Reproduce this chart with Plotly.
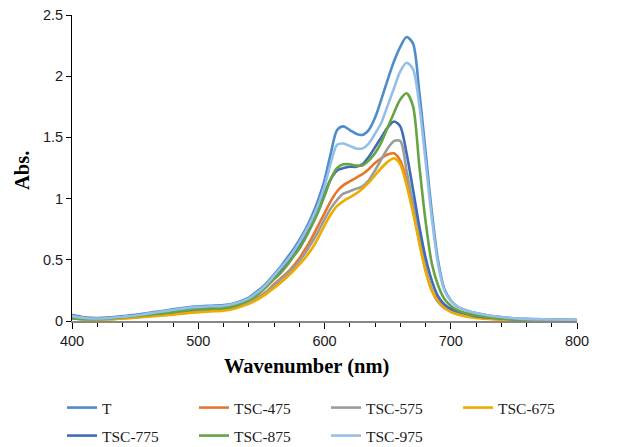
import plotly.graph_objects as go

wavelength = [400, 410, 420, 430, 440, 450, 460, 470, 480, 490, 500, 510, 520, 530,
              540, 545, 550, 555, 560, 565, 570, 575, 580, 585,
              590, 595, 600, 605, 610, 615, 620, 625, 630, 635,
              640, 645, 650, 655, 660, 665, 670, 675, 680, 685,
              690, 695, 700, 705, 710,
              720, 730, 740, 750, 760, 780, 800]

abs_T = [0.05, 0.03, 0.025, 0.03, 0.04, 0.05, 0.065, 0.08, 0.095, 0.11, 0.12, 0.125, 0.13, 0.15,
         0.19, 0.23, 0.27, 0.32, 0.38, 0.44, 0.51, 0.58, 0.66, 0.75,
         0.86, 0.99, 1.15, 1.37, 1.56, 1.59, 1.56, 1.53, 1.52, 1.56,
         1.66, 1.81, 1.97, 2.12, 2.24, 2.32, 2.27, 1.88, 1.39, 0.89,
         0.49, 0.26, 0.17, 0.12, 0.095,
         0.065, 0.045, 0.032, 0.023, 0.017, 0.012, 0.01]

abs_475 = [0.02, 0.015, 0.013, 0.016, 0.023, 0.031, 0.041, 0.051, 0.062, 0.073, 0.083, 0.088, 0.093, 0.113,
           0.155, 0.18, 0.21, 0.25, 0.30, 0.345, 0.39, 0.445, 0.51, 0.59,
           0.68, 0.78, 0.88, 0.98, 1.06, 1.11, 1.14, 1.17, 1.20, 1.24,
           1.29, 1.33, 1.36, 1.37, 1.31, 1.15, 0.92, 0.66, 0.42, 0.25,
           0.155, 0.105, 0.078, 0.06, 0.047,
           0.03, 0.02, 0.013, 0.01, 0.008, 0.006, 0.005]

abs_575 = [0.02, 0.015, 0.012, 0.015, 0.022, 0.03, 0.04, 0.05, 0.06, 0.07, 0.08, 0.085, 0.09, 0.11,
           0.15, 0.175, 0.205, 0.245, 0.29, 0.335, 0.38, 0.43, 0.49, 0.56,
           0.64, 0.73, 0.83, 0.92, 0.99, 1.04, 1.06, 1.08, 1.10, 1.15,
           1.23, 1.32, 1.41, 1.47, 1.47, 1.23, 0.96, 0.70, 0.43, 0.26,
           0.16, 0.11, 0.08, 0.06, 0.05,
           0.03, 0.02, 0.014, 0.01, 0.008, 0.006, 0.005]

abs_675 = [0.02, 0.015, 0.012, 0.015, 0.02, 0.027, 0.035, 0.043, 0.052, 0.062, 0.072, 0.078, 0.085, 0.105,
           0.14, 0.165, 0.195, 0.23, 0.27, 0.31, 0.355, 0.405, 0.46, 0.52,
           0.59, 0.68, 0.78, 0.87, 0.94, 0.98, 1.01, 1.04, 1.08, 1.13,
           1.19, 1.25, 1.30, 1.33, 1.28, 1.11, 0.89, 0.64, 0.41, 0.25,
           0.165, 0.11, 0.075, 0.055, 0.042,
           0.025, 0.016, 0.011, 0.008, 0.006, 0.005, 0.004]

abs_775 = [0.03, 0.02, 0.02, 0.025, 0.035, 0.045, 0.055, 0.065, 0.08, 0.095, 0.105, 0.11, 0.115, 0.135,
           0.175, 0.21, 0.25, 0.30, 0.35, 0.41, 0.47, 0.54, 0.61, 0.70,
           0.80, 0.91, 1.04, 1.16, 1.23, 1.25, 1.26, 1.26, 1.28, 1.34,
           1.42, 1.50, 1.58, 1.63, 1.59, 1.37, 1.08, 0.78, 0.52, 0.33,
           0.20, 0.135, 0.10, 0.08, 0.065,
           0.04, 0.028, 0.02, 0.014, 0.01, 0.007, 0.006]

abs_875 = [0.02, 0.015, 0.015, 0.02, 0.03, 0.04, 0.05, 0.06, 0.07, 0.085, 0.095, 0.1, 0.105, 0.125,
           0.17, 0.2, 0.24, 0.29, 0.34, 0.39, 0.45, 0.52, 0.59, 0.68,
           0.78, 0.89, 1.02, 1.16, 1.25, 1.28, 1.28, 1.27, 1.27, 1.31,
           1.37, 1.46, 1.58, 1.70, 1.81, 1.86, 1.76, 1.28, 0.82, 0.47,
           0.29, 0.18, 0.125, 0.09, 0.07,
           0.045, 0.03, 0.02, 0.015, 0.01, 0.008, 0.006]

abs_975 = [0.04, 0.025, 0.02, 0.025, 0.035, 0.045, 0.06, 0.075, 0.09, 0.105, 0.115, 0.12, 0.125, 0.145,
           0.185, 0.22, 0.26, 0.31, 0.37, 0.43, 0.49, 0.56, 0.64, 0.73,
           0.83, 0.95, 1.10, 1.29, 1.44, 1.45, 1.43, 1.41, 1.41, 1.45,
           1.53, 1.62, 1.76, 1.90, 2.04, 2.11, 2.06, 1.77, 1.31, 0.84,
           0.46, 0.25, 0.165, 0.12, 0.095,
           0.065, 0.045, 0.032, 0.023, 0.017, 0.012, 0.01]

series_names = ["T", "TSC-475", "TSC-575", "TSC-675", "TSC-775", "TSC-875", "TSC-975"]
series_values = [abs_T, abs_475, abs_575, abs_675, abs_775, abs_875, abs_975]
series_colors = ["#4E8DC8", "#E5762E", "#9C9C9C", "#EEAB00", "#3F6BB8", "#66A443", "#96BFE7"]
series_legend = ["legend", "legend", "legend", "legend", "legend2", "legend2", "legend2"]

x_ticks = [400, 500, 600, 700, 800]
y_ticks = [0, 0.5, 1, 1.5, 2, 2.5]
x_title = "Wavenumber (nm)"
y_title = "Abs."

W, H = 622, 447
L, R, T, B = 72, 45, 15, 126
PW, PH = W - L - R, H - T - B


def px_to_paper_x(px):
    return (px - L) / PW


def px_to_paper_y(py):
    return (H - B - py) / PH


fig = go.Figure()
for name, vals, col, lg in zip(series_names, series_values, series_colors, series_legend):
    fig.add_trace(go.Scatter(
        x=wavelength, y=vals, name=name, mode="lines",
        line=dict(color=col, width=2.6, shape="spline", smoothing=0.8),
        legend=lg,
    ))

tick_font = dict(family="Liberation Sans, Arial, sans-serif", size=14.5, color="#1a1a1a")
title_font = dict(family="Liberation Serif, Times New Roman, serif", size=20.5, color="#000000")
legend_font = dict(family="Liberation Serif, Times New Roman, serif", size=15.5, color="#1a1a1a")

legend_common = dict(
    orientation="h", xref="paper", yref="paper",
    xanchor="left", yanchor="middle",
    entrywidth=87, entrywidthmode="pixels",
    font=legend_font, bgcolor="rgba(0,0,0,0)", borderwidth=0,
    itemwidth=30, tracegroupgap=0,
)

fig.update_layout(
    width=W, height=H,
    margin=dict(l=L, r=R, t=T, b=B, autoexpand=False),
    paper_bgcolor="white", plot_bgcolor="white",
    xaxis=dict(
        range=[400, 800], tickvals=x_ticks, ticktext=[str(v) for v in x_ticks],
        showgrid=False, zeroline=False,
        showline=True, linecolor="#878787", linewidth=1.5,
        ticks="outside", ticklen=6, tickcolor="#000000", tickwidth=1,
        minor=dict(dtick=20, tick0=400, ticks="outside", ticklen=4, tickcolor="#000000", tickwidth=1, showgrid=False),
        tickfont=tick_font,
    ),
    yaxis=dict(
        range=[0, 2.5], tickvals=y_ticks, ticktext=["0", "0.5", "1", "1.5", "2", "2.5"],
        showgrid=False, zeroline=False,
        showline=True, linecolor="#000000", linewidth=1,
        ticks="outside", ticklen=5, tickcolor="#000000", tickwidth=1,
        tickfont=tick_font,
    ),
    legend=dict(legend_common, x=px_to_paper_x(62), y=px_to_paper_y(408)),
    legend2=dict(legend_common, x=px_to_paper_x(62), y=px_to_paper_y(436)),
    showlegend=True,
    annotations=[
        dict(text="<b>" + x_title + "</b>", xref="paper", yref="paper",
             x=px_to_paper_x(306), y=px_to_paper_y(366),
             xanchor="center", yanchor="middle", showarrow=False, font=title_font),
        dict(text="<b>" + y_title + "</b>", xref="paper", yref="paper",
             x=px_to_paper_x(22), y=px_to_paper_y(171),
             xanchor="center", yanchor="middle", textangle=-90, showarrow=False, font=title_font),
    ],
)

fig.write_html("out.html", config={"displayModeBar": False},
               post_script="document.body.style.margin='0';document.body.style.overflow='hidden';")
